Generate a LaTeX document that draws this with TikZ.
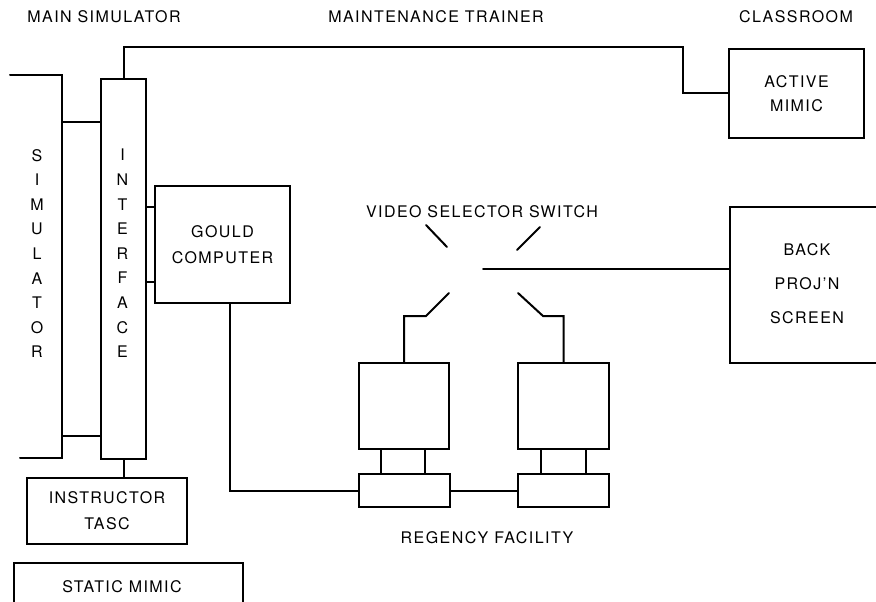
\documentclass[tikz,border=0pt]{standalone}
\usepackage{fontspec}
\setmainfont{TeX Gyre Heros}[LetterSpace=9]
\begin{document}
\begin{tikzpicture}[x=1pt,y=-1pt,
  ln/.style={line width=2pt, line cap=round, line join=miter},
  box/.style={draw, ln, rectangle, inner sep=0pt, anchor=north west, align=center},
  lbl/.style={font=\fontsize{16}{26}\selectfont, align=center, inner sep=0pt},
  vlbl/.style={font=\fontsize{16}{24.6}\selectfont, align=center, inner sep=0pt}]
\useasboundingbox (0,0) rectangle (876,602);
% headings
\node[lbl] (h1) at (104,17) {MAIN SIMULATOR};
\node[lbl] (h2) at (436,17) {MAINTENANCE TRAINER};
\node[lbl] (h3) at (796,17) {CLASSROOM};
% simulator (open shape)
\coordinate (simTL) at (10,75);
\coordinate (simTR) at (62,75);
\coordinate (simBR) at (62,458);
\coordinate (simBL) at (20,458);
\draw[ln] (simTL) -- (simTR) -- (simBR) -- (simBL);
\node[vlbl] (simtxt) at (37,253.5) {S\\I\\M\\U\\L\\A\\T\\O\\R};
% interface
\node[box, minimum width=45, minimum height=380] (iface) at (100,78) {};
\node[vlbl] (iftxt) at (122.5,253.5) {I\\N\\T\\E\\R\\F\\A\\C\\E};
\coordinate (s1) at (62,122);
\coordinate (s2) at (62,436);
\draw[ln] (s1) -- (s1 -| iface.west);
\draw[ln] (s2) -- (s2 -| iface.west);
% active mimic
\node[box, lbl, minimum width=135, minimum height=89] (amimic) at (728,48) {ACTIVE\\[-2pt]MIMIC};
\coordinate (topR) at (683,47);
\draw[ln] (iface.north) |- (topR) |- (amimic.west);
% gould computer
\node[box, lbl, minimum width=135, minimum height=117] (gould) at (154,185) {GOULD\\COMPUTER};
\coordinate (g1) at (154,207);
\coordinate (g2) at (154,282);
\draw[ln] (g1) -- (g1 -| iface.east);
\draw[ln] (g2) -- (g2 -| iface.east);
% regency facility
\node[box, minimum width=90, minimum height=86] (mon1) at (358,362) {};
\node[box, minimum width=91, minimum height=86] (mon2) at (517,362) {};
\node[box, minimum width=91, minimum height=33] (base1) at (358,473) {};
\node[box, minimum width=91, minimum height=33] (base2) at (517,473) {};
\draw[ln] (base1.north -| 381,0) -- (mon1.south -| 381,0);
\draw[ln] (base1.north -| 425,0) -- (mon1.south -| 425,0);
\draw[ln] (base2.north -| 541,0) -- (mon2.south -| 541,0);
\draw[ln] (base2.north -| 586,0) -- (mon2.south -| 586,0);
\draw[ln] (base1.east) -- (base2.west);
\draw[ln] ([xshift=7.5pt]gould.south) |- (base1.west);
\node[lbl] (regency) at (487,538) {REGENCY FACILITY};
% back projection screen
\node[box, minimum width=160, minimum height=156] (bp) at (729,206) {};
\node[font=\fontsize{16}{34}\selectfont, align=center, inner sep=0pt] (bptxt) at (807,284) {BACK\\PROJ'N\\SCREEN};
% video selector switch
\node[lbl] (vss) at (482,212) {VIDEO SELECTOR SWITCH};
\coordinate (sw) at (483,269);
\draw[ln] (sw) -- (sw -| bp.west);
\draw[ln] (426,225) -- (447,247);
\draw[ln] (540,227) -- (517,250);
\coordinate (ll) at (449,293);
\coordinate (lr) at (518,293);
\draw[ln] (ll) -- (426,316) -- (426,316 -| mon1.north) -- (mon1.north);
\draw[ln] (lr) -- (543,316) -- (543,316 -| mon2.north) -- (mon2.north);
% instructor tasc
\node[box, lbl, minimum width=160, minimum height=66] (tasc) at (26,477) {INSTRUCTOR\\TASC};
\draw[ln] (iface.south) -- (iface.south |- tasc.north);
% static mimic (cut at bottom)
\coordinate (smA) at (14,605);
\coordinate (smB) at (14,563);
\coordinate (smC) at (243,563);
\coordinate (smD) at (243,605);
\draw[ln] (smA) -- (smB) -- (smC) -- (smD);
\node[lbl] (smtxt) at (122,587) {STATIC MIMIC};
\end{tikzpicture}
\end{document}
